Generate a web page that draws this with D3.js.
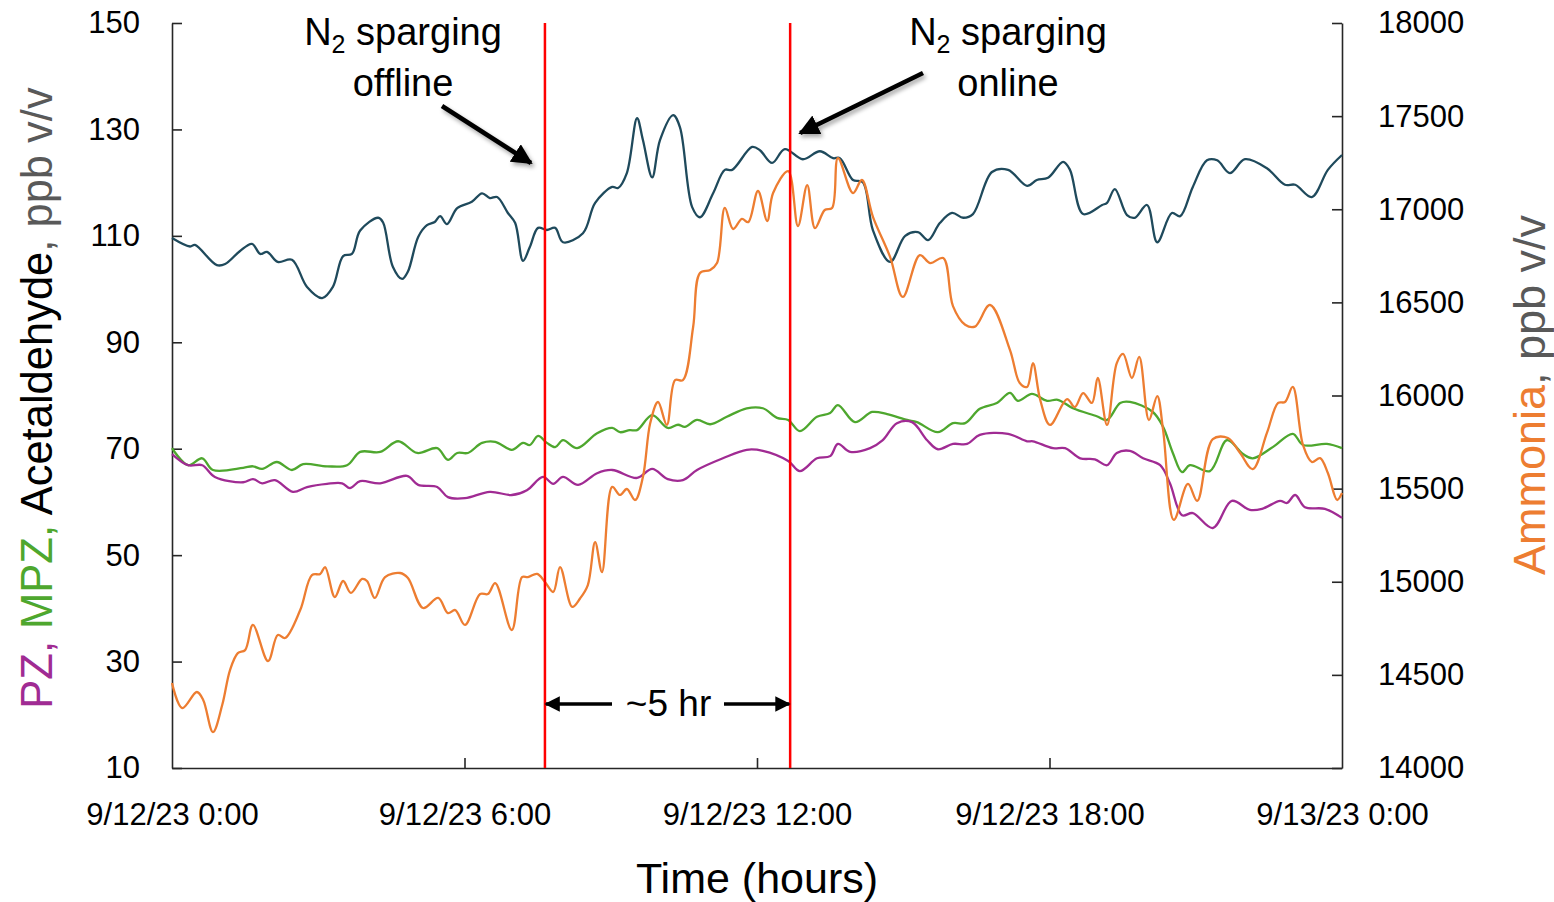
<!DOCTYPE html>
<html lang="en">
  <head>
    <meta charset="UTF-8" />
    <title>N2 sparging</title>
    <script src="https://cdn.jsdelivr.net/npm/d3@7"></script>
    <style>
      body { margin: 0; background: #fff; }
      svg { display: block; }
      text { font-family: "Liberation Sans", Arial, sans-serif; }
    </style>
  </head>
  <body>
    <svg width="1554" height="902"></svg>
    <script>
      // [hours since 9/12/23 0:00, value]
      const acetaldehyde = [[0,109.6],[0.37,108.0],[0.47,108.3],[0.92,104.5],[1.09,104.7],[1.39,107.1],[1.64,108.5],[1.81,106.6],[1.95,107.0],[2.17,105.1],[2.46,105.5],[2.77,100.4],[3.08,98.3],[3.30,100.4],[3.51,106.2],[3.69,106.6],[3.86,111.0],[4.23,113.4],[4.33,112.5],[4.53,104.2],[4.72,101.9],[4.84,103.3],[5.05,109.8],[5.23,112.0],[5.39,112.6],[5.50,113.7],[5.64,112.2],[5.85,115.2],[6.15,116.4],[6.36,118.0],[6.52,117.1],[6.67,117.3],[6.89,114.3],[7.04,112.4],[7.20,105.3],[7.34,107.9],[7.51,111.5],[7.69,111.1],[7.86,111.5],[8.02,108.8],[8.43,110.5],[8.68,116.2],[9.03,119.2],[9.15,119.0],[9.33,121.8],[9.54,132.1],[9.66,128.0],[9.85,121.0],[10.01,128.0],[10.28,132.7],[10.42,130.4],[10.67,115.4],[10.83,113.5],[11.10,118.0],[11.34,122.4],[11.49,122.4],[11.90,126.7],[12.06,126.1],[12.31,123.7],[12.57,126.3],[12.94,124.4],[13.29,125.9],[13.56,124.6],[13.70,124.6],[13.97,120.5],[14.17,120.1],[14.38,111.0],[14.73,105.1],[15.04,110.0],[15.30,110.7],[15.51,109.2],[15.75,112.4],[16.00,114.3],[16.23,113.4],[16.43,114.1],[16.82,122.0],[17.15,122.4],[17.54,119.4],[17.74,120.5],[17.97,120.9],[18.28,123.9],[18.42,122.4],[18.69,114.1],[19.08,115.8],[19.18,116.2],[19.34,118.8],[19.59,113.9],[19.75,113.4],[20.00,115.8],[20.21,108.8],[20.51,114.3],[20.68,113.7],[20.94,119.2],[21.23,124.2],[21.44,124.2],[21.70,121.8],[22.01,124.4],[22.46,122.7],[22.83,119.6],[23.04,119.6],[23.38,117.3],[23.71,122.4],[24.00,125.2]];

      const mpz = [[0,70.1],[0.33,66.9],[0.62,68.2],[0.84,66.0],[1.46,66.4],[1.66,66.7],[1.85,66.2],[2.15,67.5],[2.46,66.0],[2.69,67.1],[3.18,66.7],[3.59,66.9],[3.86,69.4],[4.27,69.4],[4.64,71.4],[5.03,69.2],[5.44,70.1],[5.66,67.9],[5.85,69.2],[6.07,69.2],[6.36,71.1],[6.63,71.3],[6.97,69.8],[7.20,71.1],[7.34,70.7],[7.51,72.4],[7.69,71.1],[7.86,70.3],[8.02,71.6],[8.31,70.1],[8.72,72.9],[9.03,73.9],[9.19,73.1],[9.39,73.5],[9.54,73.5],[9.85,76.3],[10.17,73.9],[10.38,74.5],[10.52,74.1],[10.77,75.4],[11.04,74.6],[11.38,76.0],[11.79,77.6],[12.12,77.6],[12.41,75.8],[12.64,75.4],[12.88,73.3],[13.23,76.0],[13.50,76.7],[13.66,78.2],[14.01,75.0],[14.36,76.9],[14.67,76.5],[15.08,75.4],[15.28,75.0],[15.71,73.1],[16.02,74.8],[16.27,74.8],[16.57,77.5],[16.92,78.6],[17.19,80.5],[17.35,79.0],[17.64,80.3],[17.95,79.0],[18.17,79.2],[18.48,77.6],[18.97,76.1],[19.18,75.4],[19.45,78.6],[19.65,78.8],[20.12,76.9],[20.33,74.1],[20.53,69.2],[20.72,65.6],[20.88,66.9],[21.29,65.8],[21.64,71.6],[21.97,69.0],[22.17,68.2],[22.58,70.3],[22.99,72.8],[23.20,70.7],[23.69,70.9],[24.00,70.1]];

      const pz = [[0,69.0],[0.33,66.9],[0.62,66.9],[0.88,64.7],[1.46,63.7],[1.66,64.3],[1.85,63.5],[2.11,64.1],[2.48,61.9],[2.77,62.8],[3.18,63.4],[3.49,63.5],[3.65,62.6],[3.86,63.9],[4.27,63.5],[4.82,64.9],[5.05,63.2],[5.44,62.8],[5.66,60.9],[6.01,60.7],[6.52,61.9],[6.97,61.3],[7.28,62.2],[7.61,64.7],[7.82,63.4],[8.02,64.7],[8.33,63.2],[8.72,65.4],[9.03,66.0],[9.54,64.5],[9.85,66.2],[10.17,64.3],[10.48,64.1],[10.77,66.0],[11.30,68.2],[11.79,69.8],[12.12,69.6],[12.64,67.7],[12.88,65.8],[13.23,68.2],[13.50,68.6],[13.66,70.9],[13.91,69.4],[14.32,70.1],[14.58,71.6],[14.87,74.8],[15.18,75.0],[15.49,71.6],[15.71,69.9],[16.02,70.9],[16.31,70.9],[16.57,72.6],[17.15,72.8],[17.54,71.4],[17.66,71.4],[18.07,70.1],[18.32,70.1],[18.63,68.2],[18.93,68.0],[19.18,66.9],[19.38,69.2],[19.65,69.6],[19.92,68.2],[20.27,66.9],[20.47,63.5],[20.72,57.5],[20.94,57.9],[21.35,55.1],[21.74,60.2],[22.11,58.5],[22.36,58.7],[22.73,60.2],[22.87,59.8],[23.04,61.3],[23.24,59.0],[23.65,58.7],[24.00,57.0]];

      const ammonia = [[0,14456],[0.21,14322],[0.51,14408],[0.64,14365],[0.84,14193],[1.03,14338],[1.19,14526],[1.35,14617],[1.50,14633],[1.66,14768],[1.97,14574],[2.17,14714],[2.32,14698],[2.63,14848],[2.87,15036],[3.04,15042],[3.14,15079],[3.34,14918],[3.51,15004],[3.67,14940],[3.90,15015],[4.00,15004],[4.16,14913],[4.37,15025],[4.68,15047],[4.84,15020],[5.15,14859],[5.46,14913],[5.66,14832],[5.81,14848],[6.01,14768],[6.32,14934],[6.48,14934],[6.63,14993],[6.97,14741],[7.18,15025],[7.30,15025],[7.49,15042],[7.65,14999],[7.82,14945],[7.96,15079],[8.21,14865],[8.37,14910],[8.53,14982],[8.68,15213],[8.82,15052],[9.03,15509],[9.19,15466],[9.33,15498],[9.50,15439],[9.66,15562],[9.81,15852],[9.97,15965],[10.15,15842],[10.32,16083],[10.48,16083],[10.69,16368],[10.83,16658],[11.04,16674],[11.18,16711],[11.34,17007],[11.51,16894],[11.69,16948],[11.82,16931],[12.02,17098],[12.21,16937],[12.33,17087],[12.64,17205],[12.84,16910],[13.03,17130],[13.19,16899],[13.39,16996],[13.54,17007],[13.66,17275],[13.97,17087],[14.15,17157],[14.38,16958],[14.73,16744],[14.99,16529],[15.34,16754],[15.55,16711],[15.82,16738],[16.02,16480],[16.27,16380],[16.47,16370],[16.78,16486],[17.19,16244],[17.39,16067],[17.54,16046],[17.66,16174],[17.81,15976],[18.01,15842],[18.36,15981],[18.52,15938],[18.69,16013],[18.87,15960],[18.99,16094],[19.18,15842],[19.38,16174],[19.51,16223],[19.69,16094],[19.84,16207],[20.04,15868],[20.21,15997],[20.33,15815],[20.55,15332],[20.84,15525],[21.03,15434],[21.35,15766],[21.66,15772],[21.91,15691],[22.17,15605],[22.46,15799],[22.69,15960],[22.83,15965],[22.99,16046],[23.20,15734],[23.38,15643],[23.55,15664],[23.71,15584],[23.90,15439],[24.00,15476]];

      const events = [7.65, 12.68]; // sparging offline / online
      const leftTicks = [10, 30, 50, 70, 90, 110, 130, 150];
      const rightTicks = [14000, 14500, 15000, 15500, 16000, 16500, 17000, 17500, 18000];
      const timeTicks = [0, 6, 12, 18, 24];

      const colors = {
        acet: "#1f4a5c",
        mpz: "#4ea72e",
        pz: "#a02b93",
        nh3: "#ed7d31",
        gray: "#595959",
      };

      const svg = d3.select("svg");
      const margin = { left: 172, right: 1554 - 1342, top: 23, bottom: 902 - 768 };
      const start = new Date(2023, 8, 12, 0, 0);
      const at = (h) => new Date(+start + h * 3600e3);

      const x = d3.scaleTime().domain([at(0), at(24)]).range([margin.left, 1342]);
      const yL = d3.scaleLinear().domain([10, 150]).range([768, margin.top]);
      const yR = d3.scaleLinear().domain([14000, 18000]).range([768, margin.top]);

      const fmt = d3.timeFormat("%-m/%-d/%y %-H:%M");

      // axes, ticks pointing inward
      const gx = svg.append("g").attr("transform", "translate(0,768)")
        .call(d3.axisBottom(x).tickValues(timeTicks.map(at)).tickFormat(fmt)
          .tickSizeInner(-10).tickSizeOuter(0).tickPadding(35));
      const gl = svg.append("g").attr("transform", `translate(${margin.left},0)`)
        .call(d3.axisLeft(yL).tickValues(leftTicks).tickSizeInner(-10).tickSizeOuter(0).tickPadding(32));
      const gr = svg.append("g").attr("transform", "translate(1342,0)")
        .call(d3.axisRight(yR).tickValues(rightTicks).tickFormat(d3.format("d"))
          .tickSizeInner(-10).tickSizeOuter(0).tickPadding(36));

      [gx, gl, gr].forEach((g) => {
        g.select(".domain").attr("stroke", "#262626").attr("stroke-width", 1.6);
        g.selectAll(".tick line").attr("stroke", "#262626").attr("stroke-width", 1.6);
        g.selectAll(".tick text").attr("font-size", 31).attr("fill", "#000")
          .style("font-family", '"Liberation Sans", Arial, sans-serif');
      });
      gx.selectAll(".tick line").filter((d, i) => i === 0 || i === timeTicks.length - 1).remove();

      // lines
      const lineL = d3.line().x((d) => x(at(d[0]))).y((d) => yL(d[1])).curve(d3.curveCatmullRom.alpha(0.5));
      const lineR = d3.line().x((d) => x(at(d[0]))).y((d) => yR(d[1])).curve(d3.curveCatmullRom.alpha(0.5));

      const series = [
        { data: acetaldehyde, line: lineL, color: colors.acet },
        { data: mpz, line: lineL, color: colors.mpz },
        { data: pz, line: lineL, color: colors.pz },
        { data: ammonia, line: lineR, color: colors.nh3 },
      ];
      svg.append("g").selectAll("path").data(series).join("path")
        .attr("d", (s) => s.line(s.data))
        .attr("fill", "none")
        .attr("stroke", (s) => s.color)
        .attr("stroke-width", 2.3)
        .attr("stroke-linejoin", "round");

      // event markers
      svg.append("g").selectAll("line").data(events).join("line")
        .attr("x1", (h) => x(at(h))).attr("x2", (h) => x(at(h)))
        .attr("y1", yL(150)).attr("y2", yL(10))
        .attr("stroke", "#ff0000").attr("stroke-width", 2.5);

      // arrow markers + shadow
      const defs = svg.append("defs");
      defs.append("filter").attr("id", "shadow").attr("x", "-20%").attr("y", "-20%").attr("width", "150%").attr("height", "150%")
        .append("feDropShadow").attr("dx", 2).attr("dy", 3).attr("stdDeviation", 2).attr("flood-opacity", 0.35);
      defs.append("marker").attr("id", "head").attr("viewBox", "0 0 10 10")
        .attr("refX", 9).attr("refY", 5).attr("markerWidth", 4.6).attr("markerHeight", 4.6)
        .attr("markerUnits", "strokeWidth").attr("orient", "auto")
        .append("path").attr("d", "M0,0 L10,5 L0,10 Z").attr("fill", "#000");
      defs.append("marker").attr("id", "head2").attr("viewBox", "0 0 10 10")
        .attr("refX", 9).attr("refY", 5).attr("markerWidth", 5).attr("markerHeight", 4.4)
        .attr("markerUnits", "strokeWidth").attr("orient", "auto")
        .append("path").attr("d", "M0,0 L10,5 L0,10 Z").attr("fill", "#000");

      const xOff = x(at(events[0])), xOn = x(at(events[1]));
      const ann = svg.append("g");
      ann.append("line").attr("x1", 442).attr("y1", 106).attr("x2", xOff - 14).attr("y2", 163)
        .attr("stroke", "#000").attr("stroke-width", 4.5).attr("marker-end", "url(#head)").attr("filter", "url(#shadow)");
      ann.append("line").attr("x1", 923).attr("y1", 73).attr("x2", xOn + 10).attr("y2", 133)
        .attr("stroke", "#000").attr("stroke-width", 4.5).attr("marker-end", "url(#head)").attr("filter", "url(#shadow)");
      ann.append("line").attr("x1", 612).attr("y1", 704).attr("x2", xOff + 1).attr("y2", 704)
        .attr("stroke", "#000").attr("stroke-width", 3.5).attr("marker-end", "url(#head2)");
      ann.append("line").attr("x1", 724).attr("y1", 704).attr("x2", xOn - 1).attr("y2", 704)
        .attr("stroke", "#000").attr("stroke-width", 3.5).attr("marker-end", "url(#head2)");

      function n2Label(cx, second) {
        const t = ann.append("text").attr("x", cx).attr("y", 45).attr("text-anchor", "middle")
          .attr("font-size", 38).attr("fill", "#000");
        t.append("tspan").text("N");
        t.append("tspan").attr("font-size", 25).attr("dy", 8).text("2");
        t.append("tspan").attr("dy", -8).text(" sparging");
        ann.append("text").attr("x", cx).attr("y", 96).attr("text-anchor", "middle")
          .attr("font-size", 38).attr("fill", "#000").text(second);
      }
      n2Label(403, "offline");
      n2Label(1008, "online");

      ann.append("text").attr("x", (xOff + xOn) / 2 + 1).attr("y", 716).attr("text-anchor", "middle")
        .attr("font-size", 37).attr("fill", "#000").text("~5 hr");

      // axis titles
      svg.append("text").attr("x", 757).attr("y", 893).attr("text-anchor", "middle")
        .attr("font-size", 43).attr("fill", "#000").text("Time (hours)");

      const lt = svg.append("text").attr("transform", "translate(52,398) rotate(-90)")
        .attr("text-anchor", "middle").attr("font-size", 43.5);
      lt.append("tspan").attr("fill", colors.pz).text("PZ, ");
      lt.append("tspan").attr("fill", colors.mpz).text("MPZ, ");
      lt.append("tspan").attr("fill", "#000").text("Acetaldehyde");
      lt.append("tspan").attr("fill", colors.gray).text(", ppb v/v");

      const rt = svg.append("text").attr("transform", "translate(1545,395) rotate(-90)")
        .attr("text-anchor", "middle").attr("font-size", 45);
      rt.append("tspan").attr("fill", colors.nh3).text("Ammonia");
      rt.append("tspan").attr("fill", colors.gray).text(", ppb v/v");
    </script>
  </body>
</html>
